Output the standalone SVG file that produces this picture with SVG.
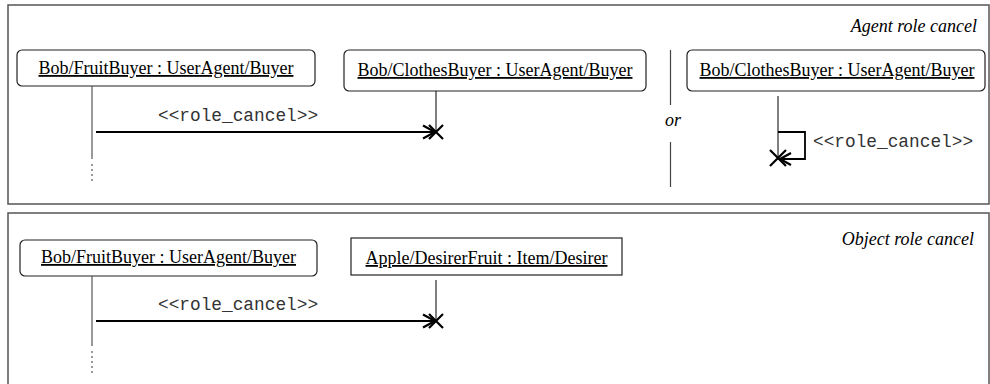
<svg xmlns="http://www.w3.org/2000/svg" width="990" height="384" viewBox="0 0 990 384">
<style>
.frame{fill:none;stroke:#555;stroke-width:1.5}
.box{fill:#fff;stroke:#222;stroke-width:1.2}
.lbl{font-family:"Liberation Serif","Times New Roman",serif;font-size:18px;fill:#000;text-anchor:middle;text-decoration:underline}
.title{font-family:"Liberation Serif","Times New Roman",serif;font-size:18px;font-style:italic;fill:#000;text-anchor:end}
.msg{font-family:"Liberation Mono","Courier New",monospace;font-size:17.8px;fill:#333}
.life{stroke:#000;stroke-width:1;fill:none}
.lifeg{stroke:#555;stroke-width:1.2;fill:none}
.dots{stroke:#555;stroke-width:1.2;stroke-dasharray:2,3;fill:none}
.arr{stroke:#000;stroke-width:2.2;fill:none}
.x{stroke:#000;stroke-width:2.2;fill:none}
</style>
<g id="frames">
<rect class="frame" x="8" y="5" width="981" height="199"/>
<rect class="frame" x="8" y="213" width="981" height="190"/>
<text class="title" x="977" y="32">Agent role cancel</text>
<text class="title" x="974" y="245">Object role cancel</text>
</g>
<g id="sep">
<line x1="670.5" y1="50" x2="670.5" y2="105" stroke="#444" stroke-width="1.2"/>
<line x1="670.5" y1="142" x2="670.5" y2="187" stroke="#444" stroke-width="1.2"/>
<text x="673" y="126" font-family="Liberation Serif, serif" font-size="18" font-style="italic" text-anchor="middle">or</text>
</g>
<g id="node1">
<rect class="box" x="17" y="50" width="298" height="36" rx="5"/>
<text class="lbl" x="166" y="74">Bob/FruitBuyer : UserAgent/Buyer</text>
</g>
<g id="node2">
<rect class="box" x="344" y="50" width="302" height="41" rx="5"/>
<text class="lbl" x="495" y="76">Bob/ClothesBuyer : UserAgent/Buyer</text>
</g>
<g id="node3">
<rect class="box" x="687" y="50" width="298" height="41" rx="5"/>
<text class="lbl" x="837" y="76">Bob/ClothesBuyer : UserAgent/Buyer</text>
</g>
<g id="node4">
<rect class="box" x="20" y="240" width="297" height="36" rx="5"/>
<text class="lbl" x="168.5" y="263">Bob/FruitBuyer : UserAgent/Buyer</text>
</g>
<g id="node5">
<rect class="box" x="351" y="238" width="271" height="37"/>
<text class="lbl" x="486.5" y="264">Apple/DesirerFruit : Item/Desirer</text>
</g>
<g id="connectors">
<line class="lifeg" x1="92" y1="86" x2="92" y2="159"/>
<line class="dots" x1="92" y1="164" x2="92" y2="183"/>
<line class="life" x1="436" y1="91" x2="436" y2="132"/>
<line class="arr" x1="96" y1="132" x2="435" y2="132"/>
<polyline class="arr" points="423,125.5 435,132 423,138.5"/>
<path class="x" d="M429,125 L443,139 M443,125 L429,139"/>
<text class="msg" x="158" y="121">&lt;&lt;role_cancel&gt;&gt;</text>

<line class="life" x1="778" y1="96" x2="778" y2="158"/>
<polyline points="778,132 805,132 805,159 781,159" fill="none" stroke="#000" stroke-width="1.8"/>
<polyline class="arr" points="791,153 780,159 791,165"/>
<path class="x" d="M770,150 L786,166 M786,150 L770,166"/>
<text class="msg" x="813" y="147">&lt;&lt;role_cancel&gt;&gt;</text>

<line class="lifeg" x1="92" y1="276" x2="92" y2="346"/>
<line class="dots" x1="92" y1="351" x2="92" y2="373"/>
<line class="life" x1="436" y1="280" x2="436" y2="321"/>
<line class="arr" x1="96" y1="321" x2="435" y2="321"/>
<polyline class="arr" points="423,314.5 435,321 423,327.5"/>
<path class="x" d="M429,314 L443,328 M443,314 L429,328"/>
<text class="msg" x="158" y="310">&lt;&lt;role_cancel&gt;&gt;</text>
</g>
</svg>
